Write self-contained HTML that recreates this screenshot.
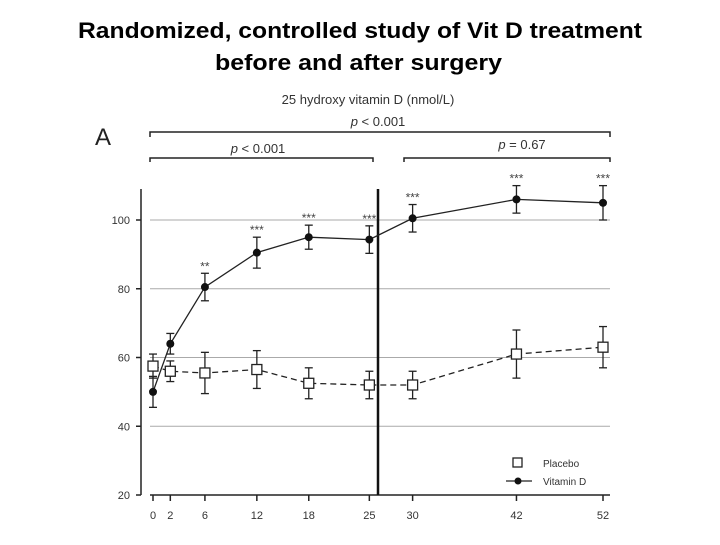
<!DOCTYPE html>
<html><head><meta charset="utf-8"><style>
body{margin:0;background:#fff;}
svg text{font-family:"Liberation Sans",sans-serif;}
</style></head><body>
<svg width="720" height="540" xmlns="http://www.w3.org/2000/svg">
<text x="78" y="38" font-size="22" font-weight="bold" textLength="564" lengthAdjust="spacingAndGlyphs">Randomized, controlled study of Vit D treatment</text>
<text x="215" y="70" font-size="22" font-weight="bold" textLength="287" lengthAdjust="spacingAndGlyphs">before and after surgery</text>
<text x="368" y="104" text-anchor="middle" font-size="13" fill="#333">25 hydroxy vitamin D (nmol/L)</text>
<text x="95" y="145" font-size="24" fill="#222">A</text>
<g id="brackets" fill="none" stroke="#222" stroke-width="1.5">
<path d="M150,137 V132 H610 V137"/>
<path d="M150,162 V158 H373 V162"/>
<path d="M404,162 V158 H610 V162"/>
</g>
<text x="378" y="126" text-anchor="middle" font-size="13" fill="#333"><tspan font-style="italic">p</tspan> &lt; 0.001</text>
<text x="258" y="153" text-anchor="middle" font-size="13" fill="#333"><tspan font-style="italic">p</tspan> &lt; 0.001</text>
<text x="522" y="149" text-anchor="middle" font-size="13" fill="#333"><tspan font-style="italic">p</tspan> = 0.67</text>
<g id="plot"></g>
</svg>
<script>
const weeks=[0,2,6,12,18,25,30,42,52];
const vitD=[50,64,80.5,90.5,95,94.3,100.5,106,105];
const vitDErr=[4.5,3,4,4.5,3.5,4,4,4,5];
const placebo=[57.5,56,55.5,56.5,52.5,52,52,61,63];
const placeboErr=[3.5,3,6,5.5,4.5,4,4,7,6];
const stars=["","","**","***","***","***","***","***","***"];
const yTicks=[20,40,60,80,100];
const NS="http://www.w3.org/2000/svg";
const g=document.getElementById('plot');
const X=w=>153+w*(450/52);
const Y=v=>495-(v-20)*(275/80);
function mk(t,a,p){const e=document.createElementNS(NS,t);for(const k in a)e.setAttribute(k,a[k]);(p||g).appendChild(e);return e;}
yTicks.forEach(v=>{
 if(v>20){const l=mk('line',{x1:150,x2:610,y1:Y(v),y2:Y(v),stroke:'#aaa','stroke-width':1});
 
 }
 const t=mk('line',{x1:136,x2:141,y1:Y(v),y2:Y(v),stroke:'#222','stroke-width':1.5});
 
 
 const tx=mk('text',{x:130,y:Y(v)+4,'text-anchor':'end','font-size':11,fill:'#333'});tx.textContent=v;
 
 
});
const ya=mk('line',{x1:141,x2:141,y1:189,y2:495,stroke:'#222','stroke-width':1.5});


const xa=mk('line',{x1:150,x2:610,y1:495,y2:495,stroke:'#222','stroke-width':1.5});


weeks.forEach(w=>{
 const t=mk('line',{x1:X(w),x2:X(w),y1:495,y2:501,stroke:'#222','stroke-width':1.5});
 
 
 const tx=mk('text',{x:X(w),y:519,'text-anchor':'middle','font-size':11,fill:'#333'});tx.textContent=w;
 
 
});
const sl=mk('line',{x1:X(26),x2:X(26),y1:189,y2:495,stroke:'#111','stroke-width':2.5});


function err(w,v,e,name){
 const gg=mk('g',{stroke:'#222','stroke-width':1.3});
 
 
 mk('line',{x1:X(w),x2:X(w),y1:Y(v+e),y2:Y(v-e)},gg);
 mk('line',{x1:X(w)-4,x2:X(w)+4,y1:Y(v+e),y2:Y(v+e)},gg);
 mk('line',{x1:X(w)-4,x2:X(w)+4,y1:Y(v-e),y2:Y(v-e)},gg);
}
const pl=mk('polyline',{points:weeks.map((w,i)=>X(w)+','+Y(placebo[i])).join(' '),fill:'none',stroke:'#222','stroke-width':1.3,'stroke-dasharray':'6,4'});


const vl=mk('polyline',{points:weeks.map((w,i)=>X(w)+','+Y(vitD[i])).join(' '),fill:'none',stroke:'#222','stroke-width':1.3});


weeks.forEach((w,i)=>{
 err(w,placebo[i],placeboErr[i],'placebo-error-'+w);
 err(w,vitD[i],vitDErr[i],'vitamin-d-error-'+w);
 const r=mk('rect',{x:X(w)-5,y:Y(placebo[i])-5,width:10,height:10,fill:'#fff',stroke:'#222','stroke-width':1.3});
 
 
 const c=mk('circle',{cx:X(w),cy:Y(vitD[i]),r:4,fill:'#111'});
 
 
 if(stars[i]){const s=mk('text',{x:X(w),y:Y(vitD[i]+vitDErr[i])-3,'text-anchor':'middle','font-size':12,fill:'#444'});s.textContent=stars[i];
 
 }
});
const lg=mk('g',{});


mk('rect',{x:513,y:458,width:9,height:9,fill:'#fff',stroke:'#222','stroke-width':1.3},lg);
const t1=mk('text',{x:543,y:467,'font-size':10,fill:'#333'},lg);t1.textContent='Placebo';


mk('line',{x1:506,x2:532,y1:481,y2:481,stroke:'#222','stroke-width':1.3},lg);
mk('circle',{cx:518,cy:481,r:3.5,fill:'#111'},lg);
const t2=mk('text',{x:543,y:485,'font-size':10,fill:'#333'},lg);t2.textContent='Vitamin D';


</script>
</body></html>
